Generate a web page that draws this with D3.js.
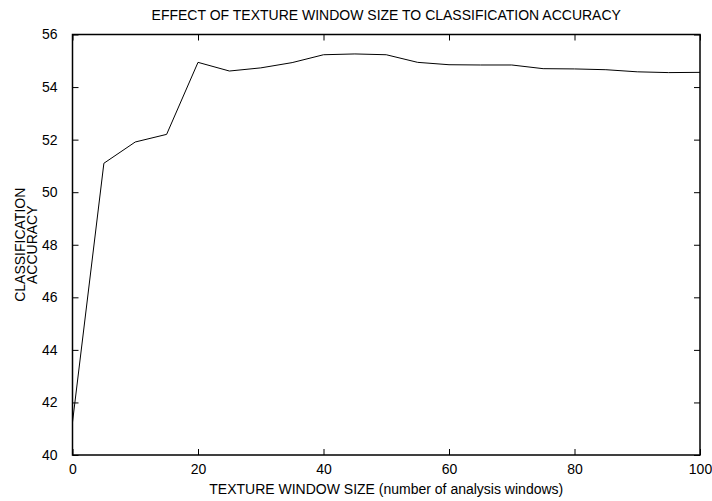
<!DOCTYPE html>
<html>
<head>
<meta charset="utf-8">
<script src="https://cdn.jsdelivr.net/npm/d3@7"></script>
<style>
  body { margin: 0; background: #fff; }
  text { font-family: "Liberation Sans", Arial, sans-serif; fill: #000; }
</style>
</head>
<body>
<svg id="chart"></svg>
<script>
// texture window size vs accuracy
var windowSizes = [0, 5, 10, 15, 20, 25, 30, 35, 40, 45, 50, 55, 60, 65, 70, 75, 80, 85, 90, 95, 100];
var accuracy = [41.25, 51.1, 51.91, 52.2, 54.94, 54.61, 54.73, 54.93, 55.23, 55.26, 55.23, 54.94, 54.85, 54.84, 54.84, 54.7, 54.69, 54.66, 54.58, 54.55, 54.56];
var xTicks = [0, 20, 40, 60, 80, 100];
var yTicks = [40, 42, 44, 46, 48, 50, 52, 54, 56];

var width = 712,
	height = 501
var margin = { top: 34.5, right: 12, bottom: 46, left: 72.5 };

var svg = d3.select("#chart")
	.attr("width", width)
	.attr("height", height);

var x = d3.scaleLinear().domain([0, 100]).range([margin.left, width - margin.right]);
var y = d3.scaleLinear().domain([40, 56]).range([height - margin.bottom, margin.top]);

var tickLen = 6;

// bottom axis (ticks pointing inward)
svg.append("g")
	.attr("transform", "translate(0," + y(40) + ")")
	.call(d3.axisBottom(x).tickValues(xTicks).tickSize(-tickLen).tickPadding(9))
	.call(function (g) {
		g.select(".domain").remove();
		g.selectAll("text").style("font-size", "14px");
	});

// top axis, ticks only
svg.append("g")
	.attr("transform", "translate(0," + y(56) + ")")
	.call(d3.axisTop(x).tickValues(xTicks).tickSize(-tickLen).tickFormat(""))
	.call(function (g) { g.select(".domain").remove(); });

// left axis
svg.append("g")
	.attr("transform", "translate(" + x(0) + ",0)")
	.call(d3.axisLeft(y).tickValues(yTicks).tickSize(-tickLen).tickPadding(15))
	.call(function (g) {
		g.select(".domain").remove();
		g.selectAll("text").style("font-size", "14px");
	});

// right axis, ticks only
svg.append("g")
	.attr("transform", "translate(" + x(100) + ",0)")
	.call(d3.axisRight(y).tickValues(yTicks).tickSize(-tickLen).tickFormat(""))
	.call(function (g) { g.select(".domain").remove(); });

svg.selectAll(".tick line").attr("stroke", "#000").attr("stroke-width", 1);

// frame
svg.append("rect")
	.attr("x", x(0))
	.attr("y", y(56))
	.attr("width", x(100) - x(0))
	.attr("height", y(40) - y(56))
	.attr("fill", "none")
	.attr("stroke", "#000")
	.attr("stroke-width", 1.5);

var line = d3.line()
	.x(function (d, i) { return x(windowSizes[i]); })
	.y(function (d) { return y(d); });

svg.append("path")
	.datum(accuracy)
	.attr("d", line)
	.attr("fill", "none")
	.attr("stroke", "#000")
	.attr("stroke-width", 1);

// titles
svg.append("text")
	.attr("x", (x(0) + x(100)) / 2)
	.attr("y", 19.5)
	.attr("text-anchor", "middle")
	.style("font-size", "14px")
	.text("EFFECT OF TEXTURE WINDOW SIZE TO CLASSIFICATION ACCURACY");

svg.append("text")
	.attr("x", (x(0) + x(100)) / 2)
	.attr("y", 494)
	.attr("text-anchor", "middle")
	.style("font-size", "14px")
	.text("TEXTURE WINDOW SIZE (number of analysis windows)");

var yLabel = ["CLASSIFICATION", "ACCURACY"];
svg.selectAll(".ylabel")
	.data(yLabel)
	.enter()
	.append("text")
	.attr("class", "ylabel")
	.attr("transform", function (d, i) {
		return "translate(" + (25 + i * 11.7) + "," + ((y(40) + y(56)) / 2) + ") rotate(-90)";
	})
	.attr("text-anchor", "middle")
	.style("font-size", "14px")
	.text(function (d) { return d; });
</script>
</body>
</html>
